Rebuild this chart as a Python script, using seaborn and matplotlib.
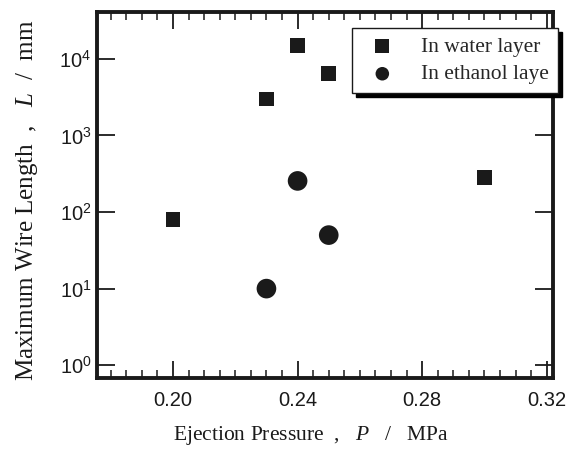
import numpy as np
import pandas as pd
import matplotlib
matplotlib.use('Agg')
import matplotlib.pyplot as plt
import seaborn as sns
from matplotlib.ticker import MultipleLocator, LogLocator, NullLocator

# data
water_p = [0.20, 0.23, 0.24, 0.25, 0.30]
water_len = [80, 3000, 15000, 6400, 285]
ethanol_p = [0.23, 0.24, 0.25]
ethanol_len = [10, 255, 50]
layer_names = ['In water layer', 'In ethanol laye']

df = pd.DataFrame({
    'pressure': water_p + ethanol_p,
    'length': water_len + ethanol_len,
    'layer': [layer_names[0]] * len(water_p) + [layer_names[1]] * len(ethanol_p),
})

sns.set_style('white')
plt.rcParams['font.family'] = ['Liberation Sans', 'DejaVu Sans']
plt.rcParams['mathtext.fontset'] = 'custom'
plt.rcParams['mathtext.it'] = 'Liberation Serif:italic'
plt.rcParams['mathtext.rm'] = 'Liberation Serif'

fig = plt.figure(figsize=(5.68, 4.5), dpi=100)
ax = fig.add_axes([97 / 568, 1 - 378 / 450, 456 / 568, 366 / 450])

sq = df[df['layer'] == layer_names[0]]
ci = df[df['layer'] == layer_names[1]]
sns.scatterplot(data=sq, x='pressure', y='length', marker='s', s=110, color='#1a1a1a',
                edgecolor='none', label=layer_names[0], ax=ax)
sns.scatterplot(data=ci, x='pressure', y='length', marker='o', s=200, color='#1a1a1a',
                edgecolor='none', label=layer_names[1], ax=ax)

ax.set_yscale('log')
ax.set_xlim(0.1756, 0.322)
ax.set_ylim(0.68, 41000)

ax.xaxis.set_major_locator(MultipleLocator(0.04))
ax.xaxis.set_minor_locator(MultipleLocator(0.005))
ax.xaxis.set_major_formatter(matplotlib.ticker.FormatStrFormatter('%.2f'))
ax.yaxis.set_major_locator(LogLocator(base=10, numticks=10))
ax.yaxis.set_minor_locator(NullLocator())

ax.tick_params(axis='both', which='both', direction='in', top=True, right=True,
               bottom=True, left=True,
               color='#1a1a1a', labelsize=14.5, labelcolor='#1a1a1a')
ax.tick_params(axis='x', which='major', length=12, width=1.3, pad=9)
ax.tick_params(axis='x', which='minor', length=6, width=1.1)
ax.tick_params(axis='y', which='major', length=13, width=1.3, pad=4)

for sp in ax.spines.values():
    sp.set_linewidth(2.8)
    sp.set_color('#1a1a1a')

serif = ['Liberation Serif', 'DejaVu Serif']
ax.set_xlabel('Ejection Pressure  ,   $P$   /   MPa', fontsize=15.5, family=serif,
              color='#1a1a1a')
ax.set_ylabel('Maximum Wire Length  ,   $L$  /  mm', fontsize=18, family=serif,
              color='#1a1a1a')
ax.xaxis.set_label_coords(0.469, -0.125)
ax.yaxis.set_label_coords(-0.125, 0.485)

leg = ax.legend(loc='upper right', bbox_to_anchor=(1.01, 0.956), fancybox=False,
                shadow={'color': 'black', 'alpha': 1, 'ox': 3, 'oy': -3},
                framealpha=1, edgecolor='#1a1a1a',
                prop={'family': serif, 'size': 15.5}, borderpad=0.4, handletextpad=0.8,
                labelspacing=0.35, borderaxespad=0)
leg.get_frame().set_linewidth(1.0)
for h, sz in zip(leg.legend_handles, [100, 95]):
    h.set_sizes([sz])

fig.savefig('out.png', dpi=100)
